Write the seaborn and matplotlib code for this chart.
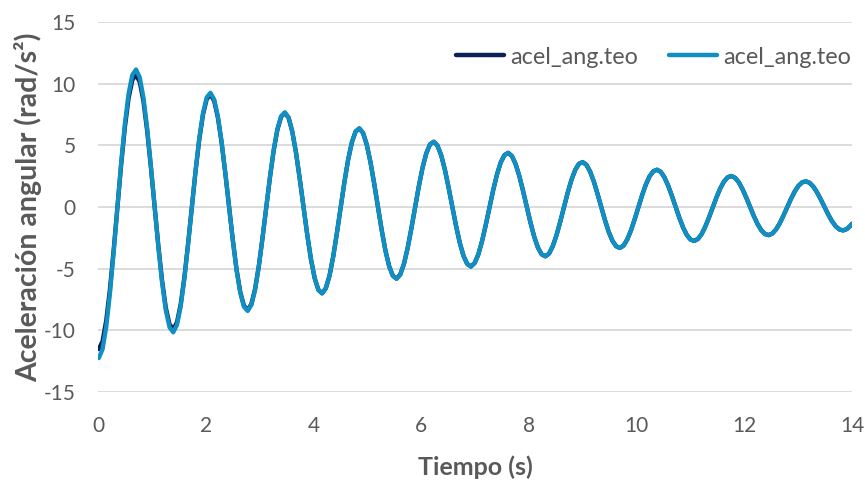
import matplotlib
matplotlib.use("Agg")
import matplotlib.pyplot as plt
import seaborn as sns
import pandas as pd

# Time samples (s)
tiempo = [
    0.0,
    0.015, 0.084, 0.153, 0.222, 0.291, 0.361, 0.430, 0.499, 0.568, 0.637,
    0.706, 0.775, 0.844, 0.913, 0.982, 1.052, 1.121, 1.190, 1.259, 1.328,
    1.397, 1.466, 1.535, 1.604, 1.673, 1.743, 1.812, 1.881, 1.950, 2.019,
    2.088, 2.157, 2.226, 2.295, 2.364, 2.434, 2.503, 2.572, 2.641, 2.710,
    2.779, 2.848, 2.917, 2.986, 3.055, 3.125, 3.194, 3.263, 3.332, 3.401,
    3.470, 3.539, 3.608, 3.677, 3.746, 3.816, 3.885, 3.954, 4.023, 4.092,
    4.161, 4.230, 4.299, 4.368, 4.437, 4.507, 4.576, 4.645, 4.714, 4.783,
    4.852, 4.921, 4.990, 5.059, 5.128, 5.198, 5.267, 5.336, 5.405, 5.474,
    5.543, 5.612, 5.681, 5.750, 5.819, 5.889, 5.958, 6.027, 6.096, 6.165,
    6.234, 6.303, 6.372, 6.441, 6.510, 6.580, 6.649, 6.718, 6.787, 6.856,
    6.925, 6.994, 7.063, 7.132, 7.201, 7.271, 7.340, 7.409, 7.478, 7.547,
    7.616, 7.685, 7.754, 7.823, 7.892, 7.962, 8.031, 8.100, 8.169, 8.238,
    8.307, 8.376, 8.445, 8.514, 8.583, 8.653, 8.722, 8.791, 8.860, 8.929,
    8.998, 9.067, 9.136, 9.205, 9.274, 9.344, 9.413, 9.482, 9.551, 9.620,
    9.689, 9.758, 9.827, 9.896, 9.965, 10.035, 10.104, 10.173, 10.242, 10.311,
    10.380, 10.449, 10.518, 10.587, 10.656, 10.726, 10.795, 10.864, 10.933, 11.002,
    11.071, 11.140, 11.209, 11.278, 11.347, 11.417, 11.486, 11.555, 11.624, 11.693,
    11.762, 11.831, 11.900, 11.969, 12.038, 12.108, 12.177, 12.246, 12.315, 12.384,
    12.453, 12.522, 12.591, 12.660, 12.729, 12.799, 12.868, 12.937, 13.006, 13.075,
    13.144, 13.213, 13.282, 13.351, 13.420, 13.490, 13.559, 13.628, 13.697, 13.766,
    13.835, 13.904, 13.973, 14.0,
]

# Angular acceleration, first series (rad/s^2)
acel_oscura = [
    -11.51,
    -11.52, -10.89, -9.19, -6.64, -3.47, 0.00, 3.42, 6.45, 8.81, 10.29,
    10.73, 10.13, 8.56, 6.17, 3.22, 0.00, -3.17, -5.97, -8.16, -9.51,
    -9.92, -9.35, -7.90, -5.69, -2.96, 0.00, 2.92, 5.49, 7.50, 8.75,
    9.12, 8.60, 7.25, 5.22, 2.73, 0.00, -2.67, -5.04, -6.88, -8.01,
    -8.35, -7.87, -6.64, -4.78, -2.49, 0.00, 2.44, 4.61, 6.29, 7.32,
    7.63, 7.24, 6.10, 4.39, 2.29, 0.00, -2.24, -4.23, -5.77, -6.72,
    -7.00, -6.59, -5.56, -4.00, -2.08, 0.00, 2.04, 3.85, 5.25, 6.12,
    6.37, 6.01, 5.06, 3.64, 1.90, 0.00, -1.86, -3.51, -4.79, -5.57,
    -5.81, -5.47, -4.61, -3.32, -1.73, 0.00, 1.70, 3.20, 4.36, 5.08,
    5.29, 4.98, 4.20, 3.02, 1.57, 0.00, -1.55, -2.91, -3.97, -4.62,
    -4.82, -4.54, -3.83, -2.75, -1.43, 0.00, 1.41, 2.65, 3.62, 4.21,
    4.39, 4.13, 3.48, 2.51, 1.31, 0.00, -1.28, -2.42, -3.30, -3.84,
    -4.00, -3.77, -3.17, -2.28, -1.19, 0.00, 1.17, 2.20, 3.00, 3.50,
    3.64, 3.43, 2.89, 2.08, 1.08, 0.00, -1.06, -2.01, -2.73, -3.18,
    -3.32, -3.13, -2.63, -1.90, -0.99, 0.00, 0.97, 1.83, 2.49, 2.90,
    3.02, 2.85, 2.40, 1.73, 0.90, 0.00, -0.88, -1.66, -2.27, -2.64,
    -2.75, -2.59, -2.19, -1.57, -0.82, 0.00, 0.80, 1.52, 2.07, 2.41,
    2.51, 2.36, 1.99, 1.43, 0.75, 0.00, -0.73, -1.38, -1.88, -2.19,
    -2.28, -2.15, -1.81, -1.31, -0.68, 0.00, 0.67, 1.26, 1.72, 2.00,
    2.08, 1.96, 1.65, 1.19, 0.62, 0.00, -0.61, -1.15, -1.56, -1.82,
    -1.90, -1.79, -1.51, -1.36,
]

# Angular acceleration, second series (rad/s^2)
acel_clara = [
    -12.24,
    -12.25, -11.54, -9.72, -7.00, -3.65, 0.00, 3.58, 6.74, 9.19, 10.71,
    11.15, 10.51, 8.86, 6.38, 3.32, 0.00, -3.26, -6.14, -8.38, -9.75,
    -10.16, -9.57, -8.07, -5.81, -3.02, 0.00, 2.97, 5.59, 7.63, 8.89,
    9.26, 8.72, 7.35, 5.29, 2.76, 0.00, -2.70, -5.10, -6.95, -8.09,
    -8.43, -7.94, -6.70, -4.82, -2.51, 0.00, 2.46, 4.64, 6.33, 7.37,
    7.68, 7.24, 6.10, 4.39, 2.29, 0.00, -2.24, -4.23, -5.77, -6.72,
    -7.00, -6.59, -5.56, -4.00, -2.08, 0.00, 2.04, 3.85, 5.25, 6.12,
    6.37, 6.01, 5.06, 3.64, 1.90, 0.00, -1.86, -3.51, -4.79, -5.57,
    -5.81, -5.47, -4.61, -3.32, -1.73, 0.00, 1.70, 3.20, 4.36, 5.08,
    5.29, 4.98, 4.20, 3.02, 1.57, 0.00, -1.55, -2.91, -3.97, -4.62,
    -4.82, -4.54, -3.83, -2.75, -1.43, 0.00, 1.41, 2.65, 3.62, 4.21,
    4.39, 4.13, 3.48, 2.51, 1.31, 0.00, -1.28, -2.42, -3.30, -3.84,
    -4.00, -3.77, -3.17, -2.28, -1.19, 0.00, 1.17, 2.20, 3.00, 3.50,
    3.64, 3.43, 2.89, 2.08, 1.08, 0.00, -1.06, -2.01, -2.73, -3.18,
    -3.32, -3.13, -2.63, -1.90, -0.99, 0.00, 0.97, 1.83, 2.49, 2.90,
    3.02, 2.85, 2.40, 1.73, 0.90, 0.00, -0.88, -1.66, -2.27, -2.64,
    -2.75, -2.59, -2.19, -1.57, -0.82, 0.00, 0.80, 1.52, 2.07, 2.41,
    2.51, 2.36, 1.99, 1.43, 0.75, 0.00, -0.73, -1.38, -1.88, -2.19,
    -2.28, -2.15, -1.81, -1.31, -0.68, 0.00, 0.67, 1.26, 1.72, 2.00,
    2.08, 1.96, 1.65, 1.19, 0.62, 0.00, -0.61, -1.15, -1.56, -1.82,
    -1.90, -1.79, -1.51, -1.36,
]

serie_nombre = "acel_ang.teo"
x_ticks = [0, 2, 4, 6, 8, 10, 12, 14]
y_ticks = [-15, -10, -5, 0, 5, 10, 15]

COLOR_OSCURO = "#0c2157"
COLOR_CLARO = "#0f8fc2"
GRIS_TEXTO = "#595959"
GRIS_REJILLA = "#d9d9d9"

sns.set_theme(style="white")
plt.rcParams["font.family"] = ["Lato", "DejaVu Sans"]
plt.rcParams["axes.unicode_minus"] = False

df = pd.DataFrame({"t": tiempo, "oscura": acel_oscura, "clara": acel_clara})

fig = plt.figure(figsize=(8.65, 4.8), dpi=100)
ax = fig.add_axes([98 / 865, 88 / 480, 754 / 865, 370 / 480])

sns.lineplot(data=df, x="t", y="oscura", ax=ax, color=COLOR_OSCURO, lw=3.1,
             sort=False, estimator=None, label=serie_nombre)
sns.lineplot(data=df, x="t", y="clara", ax=ax, color=COLOR_CLARO, lw=3.1,
             sort=False, estimator=None, label=serie_nombre)

ax.set_xlim(0, 14)
ax.set_ylim(-15, 15)
ax.set_xticks(x_ticks)
ax.set_yticks(y_ticks)
ax.yaxis.grid(True, color=GRIS_REJILLA, lw=1.3)
ax.xaxis.grid(False)
ax.set_axisbelow(True)
for s in ax.spines.values():
    s.set_visible(False)

ax.tick_params(axis="both", length=0, colors=GRIS_TEXTO, labelsize=15)
ax.tick_params(axis="y", pad=16)
ax.tick_params(axis="x", pad=17)

ax.set_xlabel("Tiempo (s)", fontsize=18, fontweight="bold", color=GRIS_TEXTO, va="center")
ax.set_ylabel("Aceleración angular (rad/s²)", fontsize=20.5, fontweight="bold",
              color=GRIS_TEXTO, va="center")
ax.xaxis.set_label_coords(0.5, (392 - 467) / 370)
ax.yaxis.set_label_coords((28 - 98) / 754, 0.5)

leg = ax.legend(ncol=2, frameon=False, loc="center right",
                bbox_to_anchor=(851 / 865, 1 - 57 / 480), bbox_transform=fig.transFigure,
                borderaxespad=0, borderpad=0, fontsize=16.8, handlelength=2.05,
                handletextpad=0.25, columnspacing=1.35)
for txt in leg.get_texts():
    txt.set_color(GRIS_TEXTO)
for ln in leg.get_lines():
    ln.set_linewidth(3.2)

fig.savefig("out.png", dpi=100)
